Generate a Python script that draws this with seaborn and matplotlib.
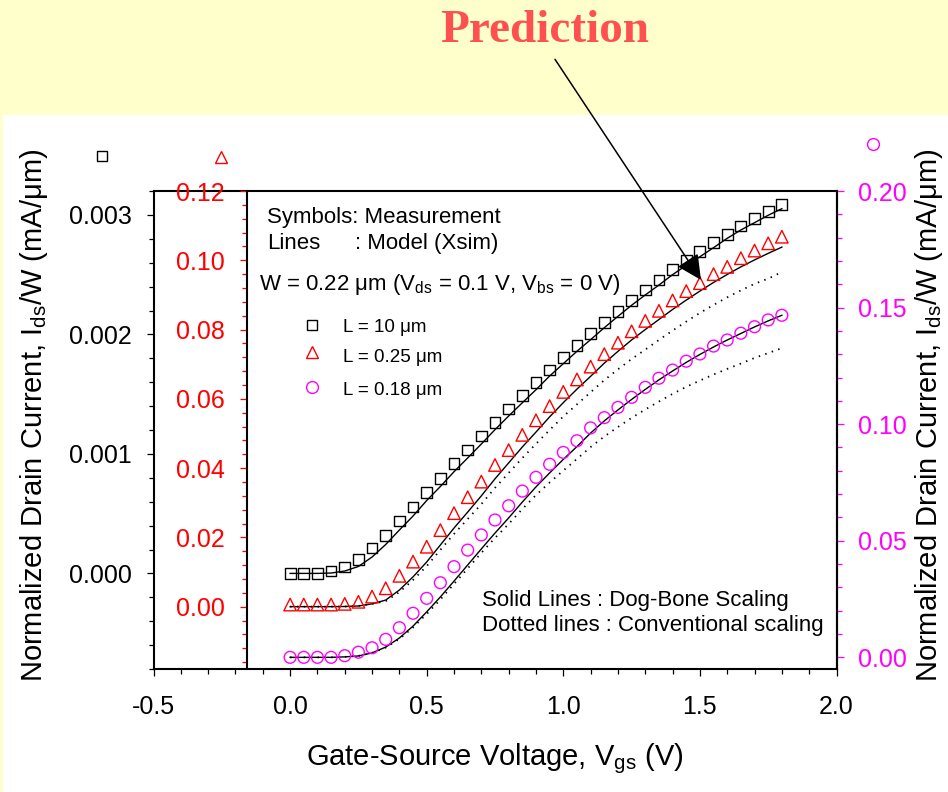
import matplotlib
matplotlib.use("Agg")
import matplotlib.pyplot as plt
import seaborn as sns
from matplotlib.ticker import MultipleLocator
from matplotlib.lines import Line2D
from matplotlib.patches import Rectangle, FancyArrowPatch

# ---------------- data ----------------
vgs = [0.00, 0.05, 0.10, 0.15, 0.20, 0.25, 0.30, 0.35, 0.40, 0.45,
       0.50, 0.55, 0.60, 0.65, 0.70, 0.75, 0.80, 0.85, 0.90, 0.95,
       1.00, 1.05, 1.10, 1.15, 1.20, 1.25, 1.30, 1.35, 1.40, 1.45,
       1.50, 1.55, 1.60, 1.65, 1.70, 1.75, 1.80]

# L = 10 um  (left black axis, mA/um)
l10_meas = [0.0000, 0.0000, 0.0000, 0.00002, 0.000054, 0.000118, 0.000213, 0.000319, 0.000438, 0.000556,
            0.000679, 0.000796, 0.000918, 0.001033, 0.00115, 0.001261, 0.001376, 0.001487, 0.001596, 0.001702,
            0.001805, 0.001909, 0.002006, 0.002098, 0.002193, 0.002285, 0.002372, 0.002455, 0.002541, 0.00262,
            0.002692, 0.002767, 0.002838, 0.002907, 0.002968, 0.00303, 0.003085]
l10_model = [0.0000, 0.0000, 0.0000, 0.000003, 0.00002, 0.000058, 0.000137, 0.000242, 0.000363, 0.00048,
             0.00061, 0.000727, 0.000851, 0.000966, 0.001083, 0.001203, 0.001317, 0.001428, 0.001537, 0.001652,
             0.001755, 0.001859, 0.001956, 0.002056, 0.002151, 0.002244, 0.00233, 0.002413, 0.0025, 0.002578,
             0.00265, 0.002726, 0.002804, 0.002874, 0.002935, 0.002997, 0.003052]

# L = 0.25 um (red axis)
l025_meas = [0.0006, 0.0006, 0.0006, 0.0006, 0.0008, 0.0014, 0.0029, 0.0053, 0.0089, 0.0130,
             0.0173, 0.0221, 0.0270, 0.0316, 0.0361, 0.0409, 0.0452, 0.0496, 0.0538, 0.0579,
             0.0620, 0.0656, 0.0693, 0.0729, 0.0762, 0.0795, 0.0825, 0.0854, 0.0884, 0.0911,
             0.0934, 0.0960, 0.0981, 0.1006, 0.1028, 0.1049, 0.1068]
l025_dogbone = [0.0000, 0.0000, 0.0000, 0.0000, 0.00004, 0.0002, 0.0008, 0.0019, 0.0048, 0.0086,
                0.0129, 0.0178, 0.0227, 0.0273, 0.0320, 0.0369, 0.0415, 0.0461, 0.0504, 0.0548,
                0.0589, 0.0628, 0.0665, 0.0703, 0.0737, 0.0770, 0.0800, 0.0829, 0.0858, 0.0885,
                0.0911, 0.0936, 0.0959, 0.0981, 0.1001, 0.1020, 0.1038]
l025_conv = [0.0000, 0.0000, 0.0000, 0.0000, 0.00004, 0.0002, 0.0008, 0.0016, 0.0042, 0.0077,
             0.0117, 0.0164, 0.0210, 0.0253, 0.0296, 0.0343, 0.0386, 0.0429, 0.0470, 0.0510,
             0.0549, 0.0584, 0.0619, 0.0654, 0.0685, 0.0715, 0.0742, 0.0770, 0.0797, 0.0823,
             0.0848, 0.0871, 0.0893, 0.0913, 0.0932, 0.0947, 0.0966]

# L = 0.18 um (magenta axis)
l018_meas = [0.0000, 0.0000, 0.0000, 0.0000, 0.0007, 0.0022, 0.0041, 0.0077, 0.0127, 0.0189,
             0.0253, 0.0320, 0.0389, 0.0460, 0.0525, 0.0589, 0.0650, 0.0713, 0.0772, 0.0828,
             0.0879, 0.0929, 0.0984, 0.1028, 0.1072, 0.1115, 0.1158, 0.1197, 0.1232, 0.1270,
             0.1301, 0.1335, 0.1361, 0.1390, 0.1418, 0.1447, 0.1467]
l018_dogbone = [0.0000, 0.0000, 0.0000, 0.0000, 0.0002, 0.0006, 0.0019, 0.0044, 0.0083, 0.0134,
                0.0195, 0.0259, 0.0327, 0.0396, 0.0465, 0.0533, 0.0598, 0.0666, 0.0731, 0.0791,
                0.0849, 0.0904, 0.0962, 0.1014, 0.1061, 0.1106, 0.1149, 0.1190, 0.1228, 0.1265,
                0.1299, 0.1331, 0.1361, 0.1389, 0.1417, 0.1443, 0.1467]
l018_conv = [0.0000, 0.0000, 0.0000, 0.0000, 0.0002, 0.0006, 0.0019, 0.0042, 0.0079, 0.0128,
             0.0186, 0.0248, 0.0315, 0.0381, 0.0448, 0.0512, 0.0572, 0.0636, 0.0696, 0.0750,
             0.0801, 0.0851, 0.0902, 0.0947, 0.0988, 0.1027, 0.1063, 0.1097, 0.1130, 0.1160,
             0.1187, 0.1213, 0.1237, 0.1260, 0.1284, 0.1305, 0.1326]

x_ticks = [-0.5, 0.0, 0.5, 1.0, 1.5, 2.0]
x_ticklabels = ["-0.5", "0.0", "0.5", "1.0", "1.5", "2.0"]
left_ticks = [0.000, 0.001, 0.002, 0.003]
left_ticklabels = ["0.000", "0.001", "0.002", "0.003"]
red_ticks = [0.00, 0.02, 0.04, 0.06, 0.08, 0.10, 0.12]
red_ticklabels = ["0.00", "0.02", "0.04", "0.06", "0.08", "0.10", "0.12"]
mag_ticks = [0.00, 0.05, 0.10, 0.15, 0.20]
mag_ticklabels = ["0.00", "0.05", "0.10", "0.15", "0.20"]

RED = "#FF0000"
MAG = "#FF00FF"

# ---------------- style ----------------
plt.rcParams["font.family"] = ["Liberation Sans", "DejaVu Sans"]
plt.rcParams["mathtext.fontset"] = "custom"
plt.rcParams["mathtext.rm"] = "Liberation Sans"
plt.rcParams["mathtext.it"] = "Liberation Sans:italic"
plt.rcParams["mathtext.default"] = "regular"

W, H = 948, 792
def fx(px):
    return px / W
def fy(py):
    return 1 - py / H

fig = plt.figure(figsize=(W / 100, H / 100), dpi=100, facecolor="#FFFFCC")
fig.patches.append(Rectangle((fx(3), 0), 1 - fx(3), fy(115), transform=fig.transFigure,
                             facecolor="white", edgecolor="none", zorder=-1))

L, R, T, B = 153.5, 836.5, 191, 669
ax = fig.add_axes([fx(L), fy(B), (R - L) / W, (B - T) / H])
ax.set_facecolor("white")
ax2 = ax.twinx()
ax3 = ax.twinx()

dot = (0, (0.8, 3.0))
MS_SQ, MS_TR, MS_CI = 7.8, 9.0, 8.5
MEW = 1.0

# L = 10 um
sns.lineplot(x=vgs, y=l10_model, ax=ax, color="black", linewidth=1.0, zorder=2)
sns.scatterplot(x=vgs, y=l10_meas, ax=ax, marker="s", s=MS_SQ ** 2, color="black",
                facecolor="none", edgecolor="black", linewidth=MEW, zorder=3)
# L = 0.25 um
sns.lineplot(x=vgs, y=l025_conv, ax=ax2, color="black", linewidth=1.3, linestyle=dot, zorder=2)
sns.lineplot(x=vgs, y=l025_dogbone, ax=ax2, color="black", linewidth=1.0, zorder=2)
sns.scatterplot(x=vgs, y=l025_meas, ax=ax2, marker="^", s=MS_TR ** 2, color=RED,
                facecolor="none", edgecolor=RED, linewidth=MEW, zorder=3)
# L = 0.18 um
sns.lineplot(x=vgs, y=l018_conv, ax=ax3, color="black", linewidth=1.3, linestyle=dot, zorder=2)
sns.lineplot(x=vgs, y=l018_dogbone, ax=ax3, color="black", linewidth=1.0, zorder=2)
sns.scatterplot(x=vgs, y=l018_meas, ax=ax3, marker="o", s=MS_CI ** 2, color=MAG,
                facecolor="none", edgecolor=MAG, linewidth=MEW, zorder=3)

# ---------------- axes ----------------
TICK = 18
ax.set_xlim(-0.5, 2.0)
ax.set_xticks(x_ticks)
ax.set_xticklabels(x_ticklabels)
ax.xaxis.set_minor_locator(MultipleLocator(0.1))
ax.set_ylim(-0.0008, 0.0032)
ax.set_yticks(left_ticks)
ax.set_yticklabels(left_ticklabels)
ax.yaxis.set_minor_locator(MultipleLocator(0.0002))
ax.tick_params(axis="both", which="both", direction="out", width=0.9, colors="black",
               labelsize=TICK)
ax.tick_params(axis="both", which="major", length=5)
ax.tick_params(axis="both", which="minor", length=3.6)
ax.tick_params(axis="y", which="major", pad=10.5)
ax.tick_params(axis="x", which="major", pad=14)
ax.yaxis.set_ticks_position("left")
ax.xaxis.set_ticks_position("bottom")
for s in ax.spines.values():
    s.set_linewidth(1.5)
    s.set_color("black")

ax2.set_ylim(-0.018, 0.12)
ax2.set_yticks(red_ticks)
ax2.set_yticklabels(red_ticklabels)
ax2.yaxis.set_minor_locator(MultipleLocator(0.004))
for s in ["right", "top", "bottom"]:
    ax2.spines[s].set_visible(False)
ax2.spines["left"].set_visible(True)
ax2.spines["left"].set_position(("axes", (246.5 - L) / (R - L)))
ax2.spines["left"].set_linewidth(1.5)
ax2.yaxis.set_ticks_position("left")
ax2.tick_params(axis="y", which="both", direction="out", width=0.9, colors=RED,
                labelsize=TICK, pad=10.5)
ax2.tick_params(axis="y", which="major", length=5)
ax2.tick_params(axis="y", which="minor", length=3.6)
ax2.set_ylabel("")

ax3.set_ylim(-0.005, 0.20)
ax3.set_yticks(mag_ticks)
ax3.set_yticklabels(mag_ticklabels)
ax3.yaxis.set_minor_locator(MultipleLocator(0.01))
for s in ["left", "top", "bottom"]:
    ax3.spines[s].set_visible(False)
ax3.spines["right"].set_linewidth(1.5)
ax3.tick_params(axis="y", which="both", direction="out", width=0.9, colors=MAG,
                labelsize=TICK, pad=10.5)
ax3.tick_params(axis="y", which="major", length=5)
ax3.tick_params(axis="y", which="minor", length=3.6)

LAB = 21
ylab = "Normalized Drain Current, I$_{ds}$/W (mA/\u03bcm)"
ax.set_xlabel("Gate-Source Voltage, V$_{gs}$ (V)", fontsize=LAB)
ax.xaxis.set_label_coords(0.5, -0.152)
ax.set_ylabel(ylab, fontsize=LAB)
ax.yaxis.set_label_coords(-0.1515, 0.53)
ax3.set_ylabel(ylab, fontsize=LAB)
ax3.yaxis.set_label_coords(1.1125, 0.53)

# ---------------- annotations ----------------
TXT = 16
fig.text(fx(267), fy(223.3), "Symbols: Measurement", fontsize=TXT, va="baseline")
fig.text(fx(267), fy(248.7), "Lines", fontsize=TXT, va="baseline")
fig.text(fx(355), fy(248.7), ": Model (Xsim)", fontsize=TXT, va="baseline")
fig.text(fx(259), fy(290), "W = 0.22 \u03bcm (V$_{ds}$ = 0.1 V, V$_{bs}$ = 0 V)",
         fontsize=TXT, va="baseline")

leg_marks = [("s", "black", 325.0, 332.3, "L = 10 \u03bcm", MS_SQ),
             ("^", RED, 352.3, 361.7, "L = 0.25 \u03bcm", MS_TR),
             ("o", MAG, 386.7, 395.0, "L = 0.18 \u03bcm", MS_CI)]
for mk, col, ym, yt, lab, ms in leg_marks:
    fig.add_artist(Line2D([fx(312)], [fy(ym)], transform=fig.transFigure, marker=mk,
                          markersize=ms, markerfacecolor="none", markeredgecolor=col,
                          markeredgewidth=MEW, linestyle="none"))
    fig.text(fx(343), fy(yt), lab, fontsize=13.5, va="baseline")

fig.text(fx(482), fy(606), "Solid Lines : Dog-Bone Scaling", fontsize=TXT, va="baseline")
fig.text(fx(482), fy(630.7), "Dotted lines : Conventional scaling", fontsize=TXT, va="baseline")

# axis identification symbols
for mk, col, xp, yp, ms in [("s", "black", 101.5, 156, MS_SQ), ("^", RED, 220.7, 156.7, MS_TR),
                            ("o", MAG, 873.3, 144.3, MS_CI)]:
    fig.add_artist(Line2D([fx(xp)], [fy(yp)], transform=fig.transFigure, marker=mk,
                          markersize=ms, markerfacecolor="none", markeredgecolor=col,
                          markeredgewidth=MEW, linestyle="none"))

# Prediction title + arrow
fig.text(fx(544.5), fy(41.7), "Prediction", fontsize=34, fontweight="bold",
         family=["Liberation Serif", "DejaVu Serif"], color="#FF5050", ha="center", va="baseline")
fig.add_artist(FancyArrowPatch((fx(555), fy(59.3)), (fx(701), fy(280)), transform=fig.transFigure,
                               arrowstyle="-|>,head_length=0.85,head_width=0.42", mutation_scale=18,
                               color="black", linewidth=1.1, shrinkA=0, shrinkB=0))

fig.savefig("out.png", dpi=100, facecolor=fig.get_facecolor())
